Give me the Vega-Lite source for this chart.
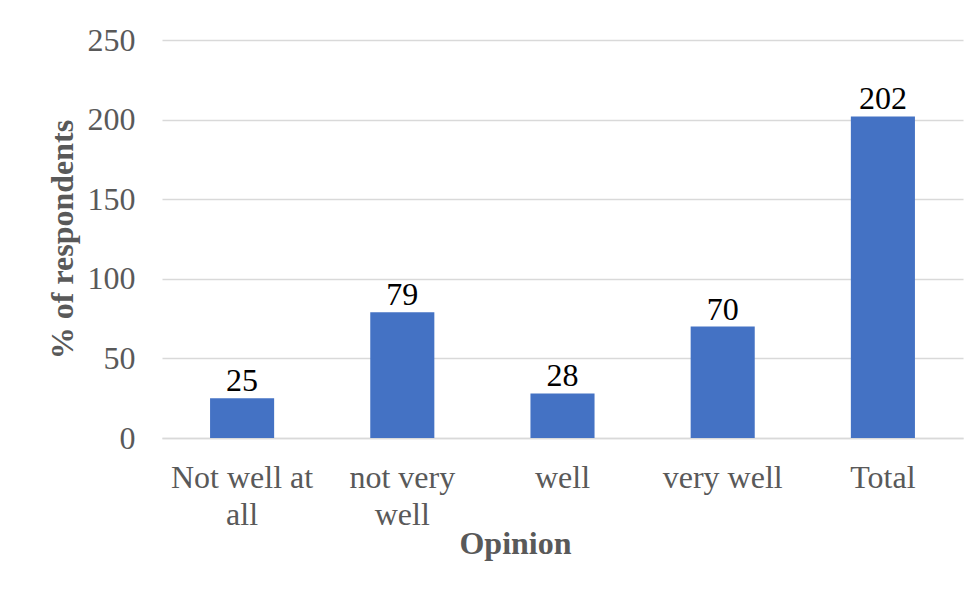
{
  "$schema": "https://vega.github.io/schema/vega-lite/v6.json",
  "autosize": {"type": "none"},
  "width": 801,
  "height": 398,
  "padding": {"left": 162, "top": 40, "right": 15, "bottom": 162},
  "background": "white",
  "data": {"values": [
    {"opinion": "Not well at all", "count": 25},
    {"opinion": "not very well", "count": 79},
    {"opinion": "well", "count": 28},
    {"opinion": "very well", "count": 70},
    {"opinion": "Total", "count": 202}
  ]},
  "encoding": {
    "x": {
      "field": "opinion", "type": "nominal", "sort": null,
      "scale": {"paddingInner": 0.6, "paddingOuter": 0.3},
      "axis": {
        "title": "Opinion",
        "titleFont": "Liberation Serif", "titleFontSize": 32, "titleFontWeight": "bold", "titleColor": "#595959",
        "titleX": 353, "titleY": 115, "titleBaseline": "alphabetic", "titleAnchor": null,
        "labelFont": "Liberation Serif", "labelFontSize": 32, "labelColor": "#595959",
        "labelAngle": 0, "labelBaseline": "alphabetic", "labelPadding": 49, "labelLineHeight": 37,
        "labelExpr": "datum.value == 'Not well at all' ? ['Not well at', 'all'] : datum.value == 'not very well' ? ['not very', 'well'] : datum.value",
        "ticks": false, "domainColor": "#d9d9d9", "domainWidth": 1.5, "grid": false
      }
    },
    "y": {
      "field": "count", "type": "quantitative",
      "scale": {"domain": [0, 250]},
      "axis": {
        "title": "% of respondents",
        "titleFont": "Liberation Serif", "titleFontSize": 32, "titleFontWeight": "bold", "titleColor": "#595959",
        "titleX": -100, "titleY": 199, "titleBaseline": "middle", "titleAngle": -90, "titleAlign": "center", "titleAnchor": null,
        "values": [0, 50, 100, 150, 200, 250],
        "labelFont": "Liberation Serif", "labelFontSize": 32, "labelColor": "#595959",
        "labelPadding": 27, "ticks": false, "domain": false,
        "gridColor": "#d9d9d9", "gridWidth": 1.5
      }
    }
  },
  "layer": [
    {"mark": {"type": "bar", "color": "#4472C4"}},
    {
      "mark": {"type": "text", "font": "Liberation Serif", "fontSize": 32, "color": "black", "baseline": "alphabetic", "dy": -7},
      "encoding": {"text": {"field": "count", "type": "quantitative"}}
    }
  ],
  "config": {"view": {"stroke": null}, "font": "Liberation Serif"}
}
